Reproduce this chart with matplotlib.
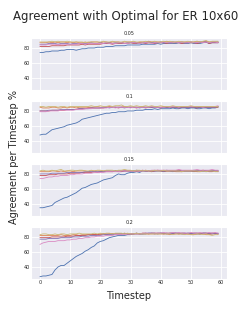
import numpy as np
import matplotlib
matplotlib.use("Agg")
import matplotlib.pyplot as plt
import seaborn as sns

sns.set_style("darkgrid")

# probabilities (one panel each)
probs = ["0.05", "0.1", "0.15", "0.2"]
timesteps = np.arange(60)

# agreement per timestep, one list per method and panel
blue = [
    [74,74,75,75,76,76,76,77,77,78,78,78,77,78,79,79,80,80,80,81,81,81,82,82,82,83,83,83,83,84,84,84,84,84,85,85,85,85,85,86,85,86,86,86,86,86,87,86,86,86,87,86,86,86,87,88,86,87,87,87],
    [48,49,49,52,55,56,57,58,59,61,62,63,64,66,69,70,71,72,73,74,75,76,77,77,78,78,79,79,79,80,80,80,81,81,81,82,82,82,83,82,83,83,83,83,84,83,83,84,84,83,84,84,83,83,84,84,83,84,84,85],
    [35,35,36,37,38,42,44,46,48,49,51,53,55,58,61,62,64,66,67,68,70,72,73,74,75,78,80,79,79,81,82,82,83,82,84,84,84,83,84,84,84,83,84,84,83,84,84,83,84,84,84,83,84,84,84,83,84,84,84,84],
    [27,28,28,29,30,36,40,42,42,45,48,51,54,56,58,61,63,66,68,72,74,75,77,79,80,81,82,82,82,83,83,84,84,84,84,84,85,85,85,84,85,85,84,85,85,85,85,84,84,85,85,84,84,84,85,85,84,84,85,84],
]
orange = [
    [87,87,87,88,87,88,87,88,88,87,88,87,88,87,87,88,87,88,88,88,87,88,88,87,88,88,88,87,88,88,88,88,87,88,88,88,89,88,88,88,88,88,89,88,88,88,88,88,88,88,88,88,89,88,88,89,88,88,88,88],
    [85,84,84,84,85,85,84,84,85,84,85,85,84,85,85,85,85,85,85,86,85,85,85,86,85,85,85,85,86,85,85,85,85,85,86,85,85,85,85,85,85,86,85,85,85,85,85,85,85,85,86,85,85,85,85,85,85,85,85,85],
    [83,83,83,83,84,84,83,84,83,84,84,83,84,84,84,84,83,84,84,84,84,84,84,84,83,84,84,84,84,84,84,84,84,84,84,84,84,83,84,84,84,84,84,84,84,83,83,83,84,84,84,84,83,83,84,84,83,83,84,83],
    [82,82,82,82,82,82,82,83,82,82,82,83,83,82,83,83,83,83,83,83,83,84,83,84,84,84,84,84,84,84,84,84,84,84,84,84,84,84,84,84,84,84,84,83,84,84,84,84,84,84,83,83,84,84,84,83,83,84,84,84],
]
red = [
    [82,82,82,82,83,83,83,83,83,84,84,84,84,84,85,84,85,85,85,85,85,86,86,86,85,86,86,86,86,86,87,86,86,87,87,86,87,87,86,87,87,87,86,87,87,87,87,86,87,87,87,87,86,87,88,88,86,87,87,87],
    [80,80,80,80,81,81,81,81,81,82,82,82,82,83,83,83,84,84,84,84,84,84,85,85,85,85,84,85,85,85,85,85,84,85,85,84,85,85,85,85,84,85,85,85,85,85,84,85,85,85,85,85,84,85,85,85,85,85,85,86],
    [78,78,78,79,79,79,80,80,80,80,81,81,81,81,82,82,82,82,83,82,83,83,83,83,83,84,83,83,84,84,84,84,84,84,85,84,84,84,84,85,84,84,84,84,84,84,85,84,84,84,84,84,84,84,85,84,84,84,84,84],
    [79,79,79,79,80,80,80,80,80,81,81,81,82,82,82,82,83,83,83,83,84,84,84,84,84,84,84,84,85,84,84,84,85,84,85,85,84,85,85,85,85,84,85,85,85,85,84,85,85,84,85,85,85,84,85,85,84,85,85,84],
]
purple = [
    [85,85,85,86,86,86,85,86,86,86,85,86,86,86,86,86,86,87,86,86,87,86,87,87,86,87,87,87,86,87,87,87,87,86,87,87,88,87,87,87,88,87,87,87,88,87,87,88,87,87,88,87,87,88,88,88,87,88,88,88],
    [80,80,80,81,81,81,81,82,82,82,82,82,82,83,83,83,83,84,84,84,84,85,85,84,85,85,85,85,84,85,85,85,85,84,85,85,85,85,85,85,84,85,85,85,85,85,85,85,85,84,85,85,85,85,85,85,85,85,85,86],
    [80,80,80,80,81,81,81,81,81,82,82,82,82,82,82,83,83,83,83,83,83,83,84,84,84,84,84,84,84,84,84,84,85,84,84,84,84,84,84,84,84,84,85,84,84,84,84,84,84,84,84,85,84,84,84,84,84,84,84,84],
    [77,77,77,78,78,78,78,79,79,79,79,80,80,80,81,81,81,82,82,82,82,83,83,83,83,84,84,84,84,84,84,84,85,84,84,85,85,85,84,85,85,85,85,84,85,85,85,85,85,85,84,85,85,85,85,85,85,85,84,85],
]
pink = [
    [84,84,84,85,85,85,84,85,85,85,85,85,85,86,86,85,86,86,86,86,86,86,87,86,86,86,87,87,86,86,87,87,87,86,87,87,87,86,87,87,87,88,87,87,87,88,87,87,87,87,88,87,87,88,87,88,87,88,88,87],
    [79,79,79,80,80,80,80,81,81,81,81,81,82,82,82,83,83,83,84,84,84,84,84,85,85,84,85,85,85,85,84,85,85,85,85,85,85,86,85,85,85,85,86,85,86,86,85,86,86,86,86,86,86,86,85,86,86,86,86,87],
    [74,74,75,76,76,77,77,78,78,78,79,79,80,80,80,81,81,81,82,82,82,82,83,83,83,83,83,84,84,84,84,84,84,84,84,85,84,85,85,85,85,85,85,85,85,85,86,85,85,85,85,85,86,85,85,85,85,86,85,85],
    [70,72,73,74,74,74,75,75,75,76,76,77,77,78,78,79,79,80,80,81,81,81,82,82,82,83,83,83,83,84,84,84,84,84,85,85,85,85,85,85,85,86,85,85,86,85,86,85,85,85,86,85,85,86,85,85,86,85,86,85],
]
olive = [
    [88,88,88,88,89,88,89,88,88,89,88,88,88,88,88,87,88,88,88,88,88,89,88,88,89,88,88,88,89,88,88,89,88,88,88,89,88,88,89,88,88,89,88,89,88,88,89,88,88,89,88,88,89,88,89,90,88,89,89,89],
    [86,86,85,86,86,86,85,86,86,85,86,86,86,86,86,86,86,87,86,86,87,86,86,87,86,87,87,88,86,86,87,86,87,86,86,87,86,87,86,86,87,86,86,86,87,86,86,86,86,86,87,86,86,86,86,86,86,86,86,86],
    [84,85,84,84,85,84,85,86,84,84,85,85,84,85,85,84,84,85,84,85,85,84,85,85,85,84,85,85,86,85,85,84,85,85,84,85,84,84,85,84,84,85,84,84,84,84,84,83,84,84,84,84,84,83,84,83,84,84,83,83],
    [83,84,84,83,83,84,83,84,84,83,84,84,84,85,84,84,84,84,85,84,85,84,85,85,84,85,85,85,84,85,84,84,85,84,84,84,84,84,84,84,84,84,84,84,83,84,84,84,83,84,83,83,84,84,83,84,83,82,83,83],
]

pal = sns.color_palette("deep")
series = [(blue, pal[0]), (orange, pal[1]), (red, pal[3]),
          (purple, pal[4]), (pink, pal[6]), (olive, pal[8])]

fig, axes = plt.subplots(4, 1, figsize=(2.52, 3.15), dpi=100, sharex=True, sharey=True)
fig.subplots_adjust(left=0.123, right=0.901, top=0.879, bottom=0.114, hspace=0.21)

for i, ax in enumerate(axes):
    for vals, col in series:
        ax.plot(timesteps, vals[i], color=col, lw=0.6)
    ax.set_title(probs[i], fontsize=3.5, pad=2)
    ax.tick_params(labelsize=3.5, pad=1, length=0)
    ax.set_yticks([40, 60, 80])
    ax.grid(lw=0.6)

axes[-1].set_xticks([0, 10, 20, 30, 40, 50, 60])

fig.suptitle("Agreement with Optimal for ER 10x60", fontsize=8.5, y=0.968)
fig.text(0.055, 0.5, "Agreement per Timestep %", rotation=90, fontsize=7, ha="center", va="center")
fig.text(0.51, 0.06, "Timestep", fontsize=7, ha="center", va="center")

fig.savefig("out.png", dpi=100)
